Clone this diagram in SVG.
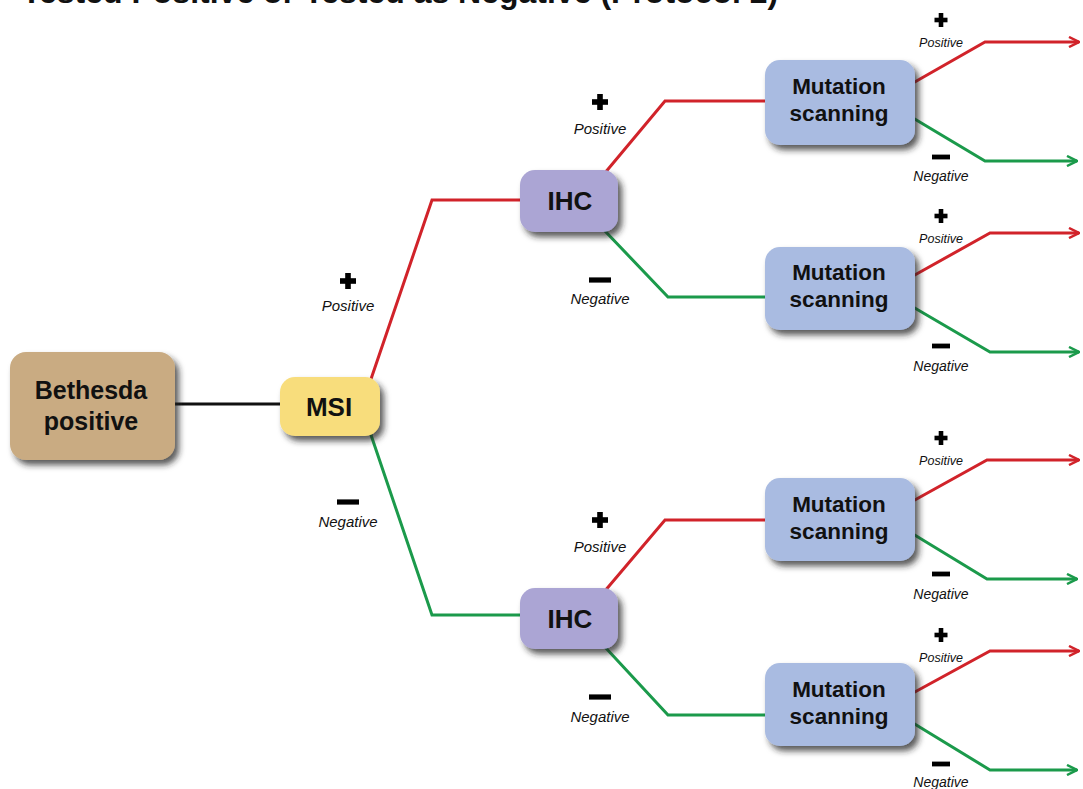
<svg xmlns="http://www.w3.org/2000/svg" width="1083" height="789" viewBox="0 0 1083 789">
<defs>
<filter id="sh" x="-20%" y="-20%" width="150%" height="160%">
<feDropShadow dx="4" dy="5" stdDeviation="3" flood-color="#222" flood-opacity="0.75"/>
</filter>
<marker id="ar" viewBox="0 0 12 12" refX="11" refY="6" markerWidth="12" markerHeight="12" markerUnits="userSpaceOnUse" orient="auto">
<path d="M1,1 L11,6 L1,11" fill="none" stroke="#d1232a" stroke-width="2.5"/>
</marker>
<marker id="ag" viewBox="0 0 12 12" refX="11" refY="6" markerWidth="12" markerHeight="12" markerUnits="userSpaceOnUse" orient="auto">
<path d="M1,1 L11,6 L1,11" fill="none" stroke="#1b9a4b" stroke-width="2.5"/>
</marker>
<g id="plus"><rect x="-2.8" y="-8" width="5.6" height="16"/><rect x="-8" y="-2.8" width="16" height="5.6"/></g>
<g id="plusS"><rect x="-2.3" y="-7" width="4.6" height="14"/><rect x="-6.5" y="-2.3" width="13" height="4.6"/></g>
<rect id="minus" x="-11" y="-2.6" width="22" height="5.2"/>
<rect id="minusS" x="-9" y="-2.4" width="18" height="4.8"/>
</defs>
<style>
.t{font-family:"Liberation Sans",Arial,sans-serif;font-weight:bold;fill:#111;text-anchor:middle}
.l{font-family:"Liberation Sans",Arial,sans-serif;font-style:italic;fill:#111;text-anchor:middle}
.r{fill:none;stroke:#d1232a;stroke-width:3}
.g{fill:none;stroke:#1b9a4b;stroke-width:3}
.k{fill:none;stroke:#111;stroke-width:3}
</style>
<text class="t" x="400" y="3" font-size="32">Tested Positive or Tested as Negative (Protocol 2)</text>
<g id="connectors">
<path class="k" d="M175,404 H282"/>
<path class="r" d="M370,382 L432,200 H522"/>
<path class="g" d="M370,432 L432,615 H522"/>
<path class="r" d="M604,174 L665,101 H767"/>
<path class="g" d="M604,230 L668,297 H767"/>
<path class="r" d="M604,592 L665,520 H767"/>
<path class="g" d="M604,646 L668,715 H767"/>
<path class="r" d="M913,83 L985,42 H1079" marker-end="url(#ar)"/>
<path class="g" d="M913,118 L985,161 H1077" marker-end="url(#ag)"/>
<path class="r" d="M913,276 L990,233 H1079" marker-end="url(#ar)"/>
<path class="g" d="M913,307 L990,352 H1079" marker-end="url(#ag)"/>
<path class="r" d="M913,501 L987,460 H1079" marker-end="url(#ar)"/>
<path class="g" d="M913,534 L987,579 H1077" marker-end="url(#ag)"/>
<path class="r" d="M913,693 L990,651 H1079" marker-end="url(#ar)"/>
<path class="g" d="M913,723 L990,770 H1077" marker-end="url(#ag)"/>
</g>
<g id="labels">
<use href="#plus" x="348" y="281"/><text class="l" x="348" y="311" font-size="15">Positive</text>
<use href="#minus" x="348" y="502"/><text class="l" x="348" y="527" font-size="15">Negative</text>
<use href="#plus" x="600" y="102"/><text class="l" x="600" y="134" font-size="15">Positive</text>
<use href="#minus" x="600" y="280"/><text class="l" x="600" y="304" font-size="15">Negative</text>
<use href="#plus" x="600" y="520"/><text class="l" x="600" y="552" font-size="15">Positive</text>
<use href="#minus" x="600" y="697"/><text class="l" x="600" y="722" font-size="15">Negative</text>
<use href="#plusS" x="941" y="20"/><text class="l" x="941" y="47" font-size="12.5">Positive</text>
<use href="#minusS" x="941" y="157"/><text class="l" x="941" y="181" font-size="14">Negative</text>
<use href="#plusS" x="941" y="216"/><text class="l" x="941" y="243" font-size="12.5">Positive</text>
<use href="#minusS" x="941" y="346"/><text class="l" x="941" y="371" font-size="14">Negative</text>
<use href="#plusS" x="941" y="438"/><text class="l" x="941" y="465" font-size="12.5">Positive</text>
<use href="#minusS" x="941" y="574"/><text class="l" x="941" y="599" font-size="14">Negative</text>
<use href="#plusS" x="941" y="635"/><text class="l" x="941" y="662" font-size="12.5">Positive</text>
<use href="#minusS" x="941" y="764"/><text class="l" x="941" y="787" font-size="14">Negative</text>
</g>
<g id="bethesda">
<rect x="10" y="352" width="165" height="108" rx="16" fill="#c9ab82" filter="url(#sh)"/>
<text class="t" x="91" y="399" font-size="25">Bethesda</text>
<text class="t" x="91" y="430" font-size="25">positive</text>
</g>
<g id="msi">
<rect x="280" y="377" width="100" height="59" rx="15" fill="#f8dd7c" filter="url(#sh)"/>
<text class="t" x="329" y="416" font-size="26">MSI</text>
</g>
<g id="ihc1">
<rect x="520" y="170" width="98" height="62" rx="15" fill="#aba5d4" filter="url(#sh)"/>
<text class="t" x="570" y="210" font-size="26">IHC</text>
</g>
<g id="ihc2">
<rect x="520" y="588" width="98" height="61" rx="15" fill="#aba5d4" filter="url(#sh)"/>
<text class="t" x="570" y="628" font-size="26">IHC</text>
</g>
<g id="ms1">
<rect x="765" y="60" width="150" height="85" rx="15" fill="#a9bbe1" filter="url(#sh)"/>
<text class="t" x="839" y="94" font-size="22.5">Mutation</text>
<text class="t" x="839" y="121" font-size="22.5">scanning</text>
</g>
<g id="ms2">
<rect x="765" y="247" width="150" height="83" rx="15" fill="#a9bbe1" filter="url(#sh)"/>
<text class="t" x="839" y="280" font-size="22.5">Mutation</text>
<text class="t" x="839" y="307" font-size="22.5">scanning</text>
</g>
<g id="ms3">
<rect x="765" y="478" width="150" height="83" rx="15" fill="#a9bbe1" filter="url(#sh)"/>
<text class="t" x="839" y="512" font-size="22.5">Mutation</text>
<text class="t" x="839" y="539" font-size="22.5">scanning</text>
</g>
<g id="ms4">
<rect x="765" y="663" width="150" height="83" rx="15" fill="#a9bbe1" filter="url(#sh)"/>
<text class="t" x="839" y="697" font-size="22.5">Mutation</text>
<text class="t" x="839" y="724" font-size="22.5">scanning</text>
</g>
</svg>
